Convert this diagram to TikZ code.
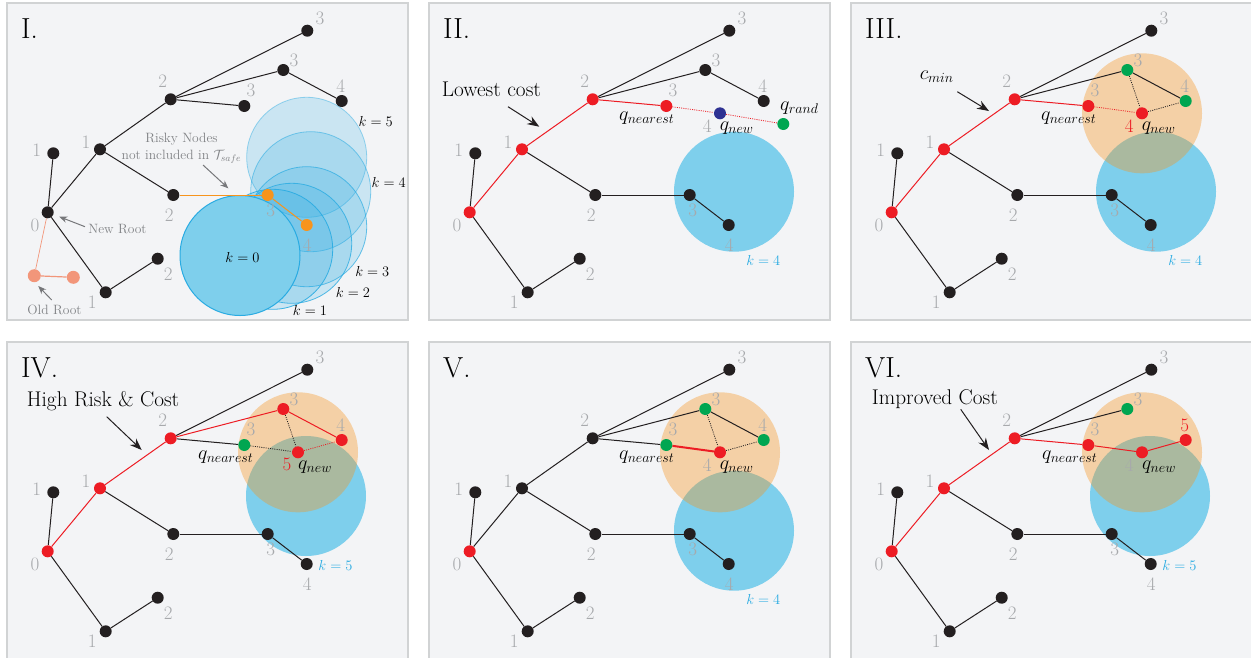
\RequirePackage{fix-cm}
\documentclass[tikz,border=0pt]{standalone}
\usetikzlibrary{arrows.meta}
\definecolor{bg}{RGB}{243,244,246}
\definecolor{frame}{RGB}{209,211,212}
\definecolor{lbl}{RGB}{167,169,172}
\definecolor{rd}{RGB}{237,28,36}
\definecolor{gn}{RGB}{0,166,81}
\definecolor{db}{RGB}{46,49,146}
\definecolor{cy}{RGB}{41,171,226}
\definecolor{obs}{RGB}{126,207,236}
\definecolor{og}{RGB}{247,148,29}
\definecolor{sal}{RGB}{242,150,122}
\definecolor{ar}{RGB}{118,119,122}
\definecolor{nt}{RGB}{128,130,133}
\definecolor{ink}{RGB}{35,31,32}
\pgfdeclarelayer{back}
\pgfdeclarelayer{mid}
\pgfsetlayers{back,mid,main}
\tikzset{
 dot/.style={circle,fill=ink,draw=none,inner sep=0pt,minimum size=12pt},
 edge/.style={line width=1pt,ink},
 dots/.style={line width=0.8pt,dash pattern=on 1pt off 1.2pt},
 lab/.style={text=lbl,font=\fontsize{19}{19}\selectfont,inner sep=0pt},
 qlab/.style={font=\fontsize{20}{20}\selectfont,inner sep=0pt},
 klab/.style={font=\fontsize{14.5}{14.5}\selectfont,inner sep=0pt},
 note/.style={text=nt,font=\fontsize{13.5}{13.5}\selectfont,inner sep=0pt},
 ann/.style={font=\fontsize{21.3}{21.3}\selectfont,inner sep=0pt},
 ttl/.style={font=\fontsize{29}{29}\selectfont,inner sep=0pt},
 blackarrow/.style={-{Stealth[length=12pt,width=9pt]},line width=1pt,ink},
 grayarrow/.style={-{Stealth[length=8pt,width=6.5pt]},line width=1pt,ar},
 panel/.style={fill=bg,draw=frame,line width=1.2pt},
 obst/.style={fill=obs},
 risk/.style={fill=og,fill opacity=0.37},
 sn0/.style={}, sn1a/.style={}, sn1b/.style={}, sn2a/.style={}, sn3a/.style={},
 sn3b/.style={}, sn4a/.style={}, sn3c/.style={}, sn2b/.style={}, sn3d/.style={},
 sn4b/.style={}, sn1c/.style={}, sn2c/.style={},
 se01a/.style={}, se01b/.style={}, se01c/.style={}, se12a/.style={}, se12b/.style={},
 se2a3a/.style={}, se2a3b/.style={}, se2a3c/.style={}, se3b4a/.style={},
 se2b3d/.style={}, se3d4b/.style={}, se1c2c/.style={},
}
\newcommand\labFA{4}
\newcommand\tree[1]{%
 \node[dot,sn0] (#1n0) at (47.7,212.3) {};
 \node[dot,sn1a] (#1n1a) at (53.3,153.3) {};
 \node[dot,sn1b] (#1n1b) at (100,149.3) {};
 \node[dot,sn2a] (#1n2a) at (170.7,99.3) {};
 \node[dot,sn3a] (#1n3a) at (307.3,30.7) {};
 \node[dot,sn3b] (#1n3b) at (283.3,70) {};
 \node[dot,sn4a] (#1n4a) at (341.7,101) {};
 \node[dot,sn3c] (#1n3c) at (244.3,106) {};
 \node[dot,sn2b] (#1n2b) at (173.3,195) {};
 \node[dot,sn3d] (#1n3d) at (267.7,195) {};
 \node[dot,sn4b] (#1n4b) at (306.7,225) {};
 \node[dot,sn1c] (#1n1c) at (105.7,292.3) {};
 \node[dot,sn2c] (#1n2c) at (157.7,258.7) {};
 \node[lab] (#1l0) at (35,225) {0};
 \node[lab] (#1l1a) at (36.7,150) {1};
 \node[lab] (#1l1b) at (86,142.3) {1};
 \node[lab] (#1l2a) at (162.7,81.7) {2};
 \node[lab] (#1l3a) at (320,18.3) {3};
 \node[lab] (#1l3b) at (294,60) {3};
 \node[lab] (#1l4a) at (340.7,86) {\labFA};
 \node[lab] (#1l3c) at (251,90.7) {3};
 \node[lab] (#1l2b) at (169.3,215) {2};
 \node[lab] (#1l3d) at (270.7,210.7) {3};
 \node[lab] (#1l4b) at (307.3,245) {4};
 \node[lab] (#1l1c) at (92.3,302.7) {1};
 \node[lab] (#1l2c) at (168.3,274) {2};
 \begin{pgfonlayer}{mid}
 \draw[edge,se01a] (#1n0) -- (#1n1a);
 \draw[edge,se01b] (#1n0) -- (#1n1b);
 \draw[edge,se01c] (#1n0) -- (#1n1c);
 \draw[edge,se12a] (#1n1b) -- (#1n2a);
 \draw[edge,se12b] (#1n1b) -- (#1n2b);
 \draw[edge,se2a3a] (#1n2a) -- (#1n3a);
 \draw[edge,se2a3b] (#1n2a) -- (#1n3b);
 \draw[edge,se2a3c] (#1n2a) -- (#1n3c);
 \draw[edge,se3b4a] (#1n3b) -- (#1n4a);
 \draw[edge,se2b3d] (#1n2b) -- (#1n3d);
 \draw[edge,se3d4b] (#1n3d) -- (#1n4b);
 \draw[edge,se1c2c] (#1n1c) -- (#1n2c);
 \end{pgfonlayer}}
\newcommand\frm{\begin{pgfonlayer}{back}\draw[panel] (7,3) rectangle (408,320);\end{pgfonlayer}}
\begin{document}
\begin{tikzpicture}[x=1pt,y=-1pt]
\useasboundingbox (0,0) rectangle (1251,657);
\begin{pgfonlayer}{back}
\fill[white] (0,0) rectangle (1251,657);
\end{pgfonlayer}
% ---------------- Panel I
\begin{scope}[sn3d/.style={fill=og}, sn4b/.style={fill=og}, se2b3d/.style={og}, se3d4b/.style={og}]
\frm
\begin{pgfonlayer}{back}
 \draw[cy,line width=0.8pt,fill=cy,fill opacity=0.2,draw opacity=0.45] (306.7,157.3) circle[radius=60pt];
 \draw[cy,line width=0.8pt,fill=cy,fill opacity=0.2,draw opacity=0.55] (310.7,191.7) circle[radius=60pt];
 \draw[cy,line width=0.8pt,fill=cy,fill opacity=0.2,draw opacity=0.7] (306.7,226.7) circle[radius=60pt];
 \draw[cy,line width=0.8pt,fill=cy,fill opacity=0.2,draw opacity=0.8] (291.7,243.3) circle[radius=60pt];
 \draw[cy,line width=0.8pt,fill=cy,fill opacity=0.2,draw opacity=0.9] (272.7,249.3) circle[radius=60pt];
 \draw[cy,line width=1pt,fill=obs] (240,255.5) circle[radius=60pt];
\end{pgfonlayer}
\tree{A}
\node[dot,fill=sal,minimum size=13pt] (Aold1) at (34.3,275.7) {};
\node[dot,fill=sal,minimum size=13pt] (Aold2) at (73.3,277.3) {};
\begin{pgfonlayer}{mid}
 \draw[sal,line width=0.7pt] (An0) -- (Aold1);
 \draw[sal,line width=1.2pt] (Aold1) -- (Aold2);
\end{pgfonlayer}
\node[ttl,anchor=base west] (Attl) at (21,38.3) {I.};
\node[note,anchor=base] (Arisk1) at (181.5,142.7) {Risky Nodes};
\node[note,anchor=base] (Arisk2) at (181.5,159.3) {not included in $\mathcal{T}_{safe}$};
\coordinate (Ara) at (203,165); \coordinate (Arb) at (228.3,188.3);
\draw[grayarrow] (Ara) -- (Arb);
\node[note,anchor=base] (Anew) at (117.5,233) {New Root};
\coordinate (Ana) at (85,226.7); \coordinate (Anb) at (59.3,216.7);
\draw[grayarrow] (Ana) -- (Anb);
\node[note,anchor=base] (Aoldt) at (54.5,314) {Old Root};
\coordinate (Aoa) at (51.7,300); \coordinate (Aob) at (38.3,286);
\draw[grayarrow] (Aoa) -- (Aob);
\node[klab] (Ak5) at (375.7,121) {$k=5$};
\node[klab] (Ak4) at (388.7,182) {$k=4$};
\node[klab] (Ak3) at (372.3,271.3) {$k=3$};
\node[klab] (Ak2) at (353,292.8) {$k=2$};
\node[klab] (Ak1) at (310,310.8) {$k=1$};
\node[klab] (Ak0) at (242.5,257.7) {$k=0$};
\end{scope}
% ---------------- Panel II
\begin{scope}[shift={(422,0)}, sn0/.style={fill=rd}, sn1b/.style={fill=rd}, sn2a/.style={fill=rd}, sn3c/.style={fill=rd},
  se01b/.style={rd}, se12a/.style={rd}, se2a3c/.style={rd}]
\frm
\begin{pgfonlayer}{back}
 \fill[obst] (312,191.7) circle[radius=60pt];
\end{pgfonlayer}
\tree{B}
\node[dot,fill=db] (Bqnew) at (298,113.3) {};
\node[dot,fill=gn] (Bqrand) at (361.3,124) {};
\begin{pgfonlayer}{mid}
 \draw[rd,dots] (Bn3c) -- (Bqnew);
 \draw[rd,dots] (Bqnew) -- (Bqrand);
\end{pgfonlayer}
\node[lab] (Blq) at (285.3,126) {4};
\node[qlab] (Bqnl) at (224.7,118.3) {$q_{nearest}$};
\node[qlab] (Bqwl) at (314.7,128.3) {$q_{new}$};
\node[qlab] (Bqrl) at (377.3,108.3) {$q_{rand}$};
\node[ttl,anchor=base west] (Bttl) at (21,38.3) {II.};
\node[ann,anchor=base west] (Bann) at (19.7,96) {Lowest cost};
\coordinate (Baa) at (86,106.7); \coordinate (Bab) at (117.3,126.7);
\draw[blackarrow] (Baa) -- (Bab);
\node[klab,text=cy] (Bk) at (341.3,260) {$k=4$};
\end{scope}
% ---------------- Panel III
\begin{scope}[shift={(844,0)}, sn0/.style={fill=rd}, sn1b/.style={fill=rd}, sn2a/.style={fill=rd}, sn3c/.style={fill=rd},
  sn3b/.style={fill=gn}, sn4a/.style={fill=gn},
  se01b/.style={rd}, se12a/.style={rd}, se2a3c/.style={rd}]
\frm
\begin{pgfonlayer}{back}
 \fill[obst] (312,191.7) circle[radius=60pt];
 \fill[risk] (298,113.3) circle[radius=60pt];
\end{pgfonlayer}
\tree{C}
\node[dot,fill=rd] (Cqnew) at (298,113.3) {};
\begin{pgfonlayer}{mid}
 \draw[rd,dots] (Cn3c) -- (Cqnew);
 \draw[ink,dots] (Cn3b) -- (Cqnew);
 \draw[ink,dots] (Cqnew) -- (Cn4a);
\end{pgfonlayer}
\node[lab,text=rd] (Clq) at (285.3,126) {4};
\node[qlab] (Cqnl) at (224.7,118.3) {$q_{nearest}$};
\node[qlab] (Cqwl) at (314.7,128.3) {$q_{new}$};
\node[ttl,anchor=base west] (Cttl) at (21,38.3) {III.};
\node[qlab] (Cann) at (92.7,77) {$c_{min}$};
\coordinate (Caa) at (113.3,91.7); \coordinate (Cab) at (145,111);
\draw[blackarrow] (Caa) -- (Cab);
\node[klab,text=cy] (Ck) at (341.3,260) {$k=4$};
\end{scope}
% ---------------- Panel IV
\begin{scope}[shift={(0,339)}, sn0/.style={fill=rd}, sn1b/.style={fill=rd}, sn2a/.style={fill=rd}, sn3b/.style={fill=rd},
  sn4a/.style={fill=rd}, sn3c/.style={fill=gn},
  se01b/.style={rd}, se12a/.style={rd}, se2a3b/.style={rd}, se3b4a/.style={rd}]
\frm
\begin{pgfonlayer}{back}
 \fill[obst] (306,157) circle[radius=60pt];
 \fill[risk] (298,113.3) circle[radius=60pt];
\end{pgfonlayer}
\tree{D}
\node[dot,fill=rd] (Dqnew) at (298,113.3) {};
\begin{pgfonlayer}{mid}
 \draw[ink,dots] (Dn3c) -- (Dqnew);
 \draw[ink,dots] (Dn3b) -- (Dqnew);
 \draw[rd,dots] (Dqnew) -- (Dn4a);
\end{pgfonlayer}
\node[lab,text=rd] (Dlq) at (287,125) {5};
\node[qlab] (Dqnl) at (225.7,117.7) {$q_{nearest}$};
\node[qlab] (Dqwl) at (315,127.7) {$q_{new}$};
\node[ttl,anchor=base west] (Dttl) at (21,38.3) {IV.};
\node[ann,anchor=base west] (Dann) at (26.7,67) {High Risk \& Cost};
\coordinate (Daa) at (106.7,77.7); \coordinate (Dab) at (141.7,111);
\draw[blackarrow] (Daa) -- (Dab);
\node[klab,text=cy] (Dk) at (335.5,226) {$k=5$};
\end{scope}
% ---------------- Panel V
\begin{scope}[shift={(422,339)}, sn0/.style={fill=rd}, sn3c/.style={fill=gn}, sn3b/.style={fill=gn}, sn4a/.style={fill=gn}]
\frm
\begin{pgfonlayer}{back}
 \fill[obst] (312,191.7) circle[radius=60pt];
 \fill[risk] (298,113.3) circle[radius=60pt];
\end{pgfonlayer}
\tree{E}
\node[dot,fill=rd] (Eqnew) at (298,113.3) {};
\begin{pgfonlayer}{mid}
 \draw[rd,line width=2pt] (En3c) -- (Eqnew);
 \draw[ink,dots] (En3b) -- (Eqnew);
 \draw[ink,dots] (Eqnew) -- (En4a);
\end{pgfonlayer}
\node[lab] (Elq) at (285.3,126) {4};
\node[qlab] (Eqnl) at (224.7,118.3) {$q_{nearest}$};
\node[qlab] (Eqwl) at (314.7,128.3) {$q_{new}$};
\node[ttl,anchor=base west] (Ettl) at (21,38.3) {V.};
\node[klab,text=cy] (Ek) at (341.3,260) {$k=4$};
\end{scope}
% ---------------- Panel VI
\begin{scope}[shift={(844,339)}, sn0/.style={fill=rd}, sn1b/.style={fill=rd}, sn2a/.style={fill=rd}, sn3c/.style={fill=rd},
  sn4a/.style={fill=rd}, sn3b/.style={fill=gn},
  se01b/.style={rd}, se12a/.style={rd}, se2a3c/.style={rd}, se3b4a/.style={draw=none}]
\renewcommand\labFA{\textcolor{rd}{5}}
\frm
\begin{pgfonlayer}{back}
 \fill[obst] (306,157) circle[radius=60pt];
 \fill[risk] (298,113.3) circle[radius=60pt];
\end{pgfonlayer}
\tree{F}
\node[dot,fill=rd] (Fqnew) at (298,113.3) {};
\begin{pgfonlayer}{mid}
 \draw[edge,rd] (Fn3c) -- (Fqnew);
 \draw[edge,rd] (Fqnew) -- (Fn4a);
\end{pgfonlayer}
\node[lab] (Flq) at (285.3,126) {4};
\node[qlab] (Fqnl) at (225.7,117.7) {$q_{nearest}$};
\node[qlab] (Fqwl) at (315,127.7) {$q_{new}$};
\node[ttl,anchor=base west] (Fttl) at (21,38.3) {VI.};
\node[ann,anchor=base west] (Fann) at (27.7,65) {Improved Cost};
\coordinate (Faa) at (116.7,70.3); \coordinate (Fab) at (145,111);
\draw[blackarrow] (Faa) -- (Fab);
\node[klab,text=cy] (Fk) at (335.5,226) {$k=5$};
\end{scope}
\end{tikzpicture}
\end{document}
